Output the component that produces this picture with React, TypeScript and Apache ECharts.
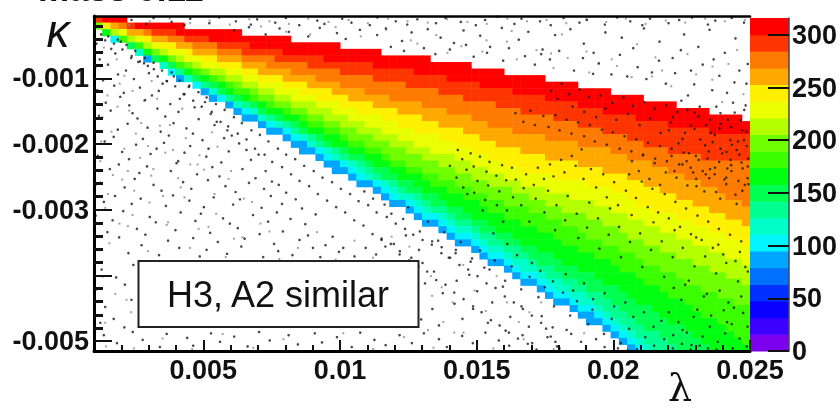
import React, { useEffect, useRef } from "react";
import * as echarts from "echarts";

// Colour scale: 20 contour bands, lowest first.
const bandColors = ["#7a00ee","#3c00ff","#0a00ff","#0030ff","#0070ff","#00a5ff","#00f5ff","#00ffc8","#00ff90","#00ff50","#00ff10","#3bff00","#6fff00","#b4ff00","#eaff00","#fff000","#ffa800","#ff7a00","#ff3500","#ff0000"];
const zMax = 316;
const bandWidth = zMax / 20;
const zTicks = [0, 50, 100, 150, 200, 250, 300];

// Binning of the histogram
const lambdaMin = 0.001;
const lambdaMax = 0.025;
const kappaTop = -0.00005;
const kappaBottom = -0.00515;
const cellLambda = 0.0003;
const cellKappa = 0.0001;

// Axis ticks
const xMajor = [0.005, 0.01, 0.015, 0.02, 0.025];
const xMinor = [0.002, 0.003, 0.004, 0.006, 0.007, 0.008, 0.009, 0.011, 0.012, 0.013, 0.014, 0.016, 0.017, 0.018, 0.019, 0.021, 0.022, 0.023, 0.024];
const yMajor = [-0.001, -0.002, -0.003, -0.004, -0.005];
const yLabels = [-0.001, -0.002, -0.003, -0.005];
const yMinor = [-0.0002, -0.0004, -0.0006, -0.0008, -0.0012, -0.0014, -0.0016, -0.0018, -0.0022, -0.0024, -0.0026, -0.0028, -0.0032, -0.0034, -0.0036, -0.0038, -0.0042, -0.0044, -0.0046, -0.0048];

// Per histogram row (top to bottom): the column where each colour band starts.
const rowEnd = [4,11,18,24,30,35,41,46,50,55,59,63,67,71,75,79];
const b05Start = [0,0,1,2,4,5,6,8,9,10,12,13,14,16,17,18,20,21,23,24,25,27,28,29,31,32,34,35,36,38,39,40,42,43,44,46,47,48,50,51,52,54,55,56,58,59,60,62,63,64,65];
const b06Start = [0,0,1,2,4,5,7,8,9,11,12,14,15,17,18,20,21,23,24,26,27,28,30,31,32,34,35,36,38,39,40,42,43,44,46,47,48,50,51,52,54,55,56,58,59,61,62,63,64,65,66];
const b07Start = [0,0,1,3,4,5,7,8,10,11,13,14,16,17,19,20,22,24,25,26,28,29,31,32,33,35,36,37,39,40,42,43,44,46,47,48,50,51,52,54,55,56,58,59,61,62,63,64,65,66,67];
const b08Start = [0,0,1,3,4,6,7,9,10,12,13,15,16,18,20,21,23,24,26,27,29,30,32,33,34,36,37,39,40,41,43,44,46,47,48,50,51,53,54,55,57,58,60,61,62,63,64,65,66,67,68];
const b09Start = [0,0,1,3,4,6,7,9,11,12,14,15,17,19,20,22,24,25,27,28,30,31,33,34,35,37,38,40,41,43,44,46,47,49,50,52,53,54,56,57,59,60,62,63,64,65,66,67,69,70,71];
const b10Start = [0,0,1,3,5,6,8,10,11,13,15,16,18,20,21,23,25,26,28,29,31,33,34,36,37,39,40,42,43,45,46,48,49,51,52,54,56,57,59,61,62,64,65,66,68,69,70,72,73,74,75];
const b11Start = [0,0,2,3,5,7,9,10,12,14,16,17,19,21,23,25,26,28,30,31,33,35,36,38,40,41,43,45,47,48,50,52,54,56,57,59,61,63,64,66,67,69,70,72,73,74,76,77,78,79,80];
const b12Start = [0,0,2,4,6,7,9,11,13,15,17,19,20,22,24,26,28,30,31,33,35,36,38,40,42,44,46,48,50,53,55,57,59,60,62,64,66,67,69,71,72,74,76,78,80];
const b13Start = [0,1,2,4,6,8,10,12,14,16,18,20,22,24,26,28,30,32,34,36,38,40,42,44,46,48,51,53,55,57,60,62,64,65,67,69,71,73,75,77,79];
const b14Start = [0,1,3,5,7,9,11,13,16,18,20,22,24,27,29,31,33,35,37,39,41,44,46,48,50,52,55,58,61,63,65,67,69,71,73,75,77,79];
const b15Start = [0,1,4,6,8,11,13,15,18,20,23,25,27,30,32,35,37,39,42,44,46,48,50,52,56,60,63,65,66,68,71,73,75,77,79];
const b16Start = [0,2,4,7,10,12,15,18,20,23,26,29,31,34,37,40,42,45,47,49,52,55,59,62,65,67,69,71,73,75,77,79];
const b17Start = [0,3,6,9,12,15,18,21,24,27,30,33,36,40,43,46,48,51,55,59,63,65,68,70,72,74,76,77,79];
const b18Start = [0,4,7,11,15,18,22,26,30,34,38,42,45,49,52,56,59,62,65,67,70,74];
const b19Start = [1,5,10,14,19,23,28,34,39,43,47,51,55,59,62,66,70,75];

// Speckle, as flat lambda,kappa pairs in units of 1e-5. Estimated per region: the reference has
// far too many specks to read one by one, so these follow its density, not each individual dot.
const specksLowerLeft = [
109,-47,163,-55,198,-44,121,-71,178,-62,236,-69,262,-75,104,-84,151,-79,217,-88,283,-77,319,-86,133,-103,188,-94,246,-101,301,-92,367,-104,392,-97,
112,-118,174,-111,209,-122,268,-114,337,-119,351,-108,428,-124,447,-113,143,-137,196,-128,229,-141,287,-133,312,-126,379,-139,414,-131,468,-144,506,-136,
118,-157,161,-149,241,-153,259,-161,332,-146,361,-158,409,-151,483,-162,527,-154,549,-166,103,-172,187,-178,223,-169,296,-175,344,-181,391,-168,438,-176,462,-184,541,-171,588,-179,604,-187,
139,-196,172,-189,254,-201,279,-192,356,-198,374,-187,452,-203,497,-194,519,-207,576,-191,631,-199,658,-209,114,-218,203,-212,228,-223,307,-215,329,-207,408,-226,431,-213,511,-219,566,-228,593,-211,674,-224,702,-216,
158,-238,191,-231,266,-244,294,-234,381,-241,402,-229,477,-246,533,-235,559,-249,643,-238,691,-252,728,-241,751,-257,123,-259,212,-266,249,-253,318,-262,347,-271,426,-258,456,-268,517,-255,581,-264,618,-273,667,-259,722,-268,776,-262,803,-274,
136,-288,177,-279,238,-291,271,-283,363,-294,389,-278,449,-286,502,-296,538,-281,609,-292,634,-284,713,-297,747,-279,788,-291,838,-284,861,-298,106,-309,168,-316,207,-302,304,-311,326,-319,417,-304,471,-317,491,-306,572,-313,597,-321,682,-308,737,-318,769,-304,819,-314,873,-322,911,-307,
149,-334,192,-342,257,-329,288,-338,371,-347,398,-331,463,-343,525,-335,553,-349,626,-328,651,-344,706,-337,759,-352,791,-333,852,-346,883,-339,947,-354,973,-341,1012,-358,119,-361,226,-366,274,-354,338,-369,412,-358,487,-371,512,-361,587,-367,639,-356,719,-372,774,-363,826,-369,901,-358,928,-372,996,-364,1053,-371,1094,-358,1132,-368,
128,-391,181,-403,244,-384,109,-421,213,-414,141,-448,237,-437,172,-466,123,-472,211,-479,
136,-491,184,-503,242,-486,278,-498,341,-509,366,-489,441,-495,463,-507,528,-488,561,-501,613,-493,662,-508,704,-486,743,-499,812,-491,846,-505,908,-488,934,-502,989,-494,1043,-509,1074,-487,1126,-498,1167,-506,1218,-491,1263,-503,1307,-488,1362,-497,1391,-509,1447,-492,1486,-503,1532,-487,1581,-499,1619,-507,1668,-491,1703,-503,1759,-494,1794,-508,1846,-489,1882,-501,1937,-497,1968,-509,2017,-511,2052,-514,
1302,-381,1344,-394,1398,-373,1427,-408,1311,-412,1376,-427,1338,-451,1419,-443,1297,-467,1362,-476,1448,-466,1473,-399,1502,-424,1528,-388,1557,-441,1596,-417,1623,-463,1541,-472,1487,-451,1664,-447,1691,-478,1738,-462,1606,-484,1778,-479,1829,-483,
1152,-344,1197,-352,1241,-339,1289,-361,1337,-348,1372,-357,1423,-366,1261,-373,1218,-368,1478,-379,1166,-356
];
const specksUpper = [
237,-11,291,-17,318,-8,384,-14,431,-19,452,-9,522,-16,558,-7,619,-13,674,-18,697,-10,763,-15,802,-8,851,-19,917,-12,943,-17,1008,-9,1042,-15,1109,-19,1137,-7,1204,-13,1246,-18,1283,-10,1351,-16,1386,-8,1442,-14,1497,-19,1531,-11,1576,-6,1638,-17,1664,-9,1732,-13,1771,-19,1818,-8,1876,-15,1903,-11,1969,-18,2014,-7,2062,-13,2106,-19,2134,-9,2202,-16,2241,-11,2288,-7,2346,-18,2373,-12,2433,-8,2478,-15,
612,-27,667,-22,728,-33,779,-24,813,-29,884,-36,926,-23,989,-31,1021,-40,1073,-26,1136,-34,1168,-24,1227,-43,1262,-30,1321,-25,1368,-38,1417,-46,1452,-27,1513,-35,1549,-52,1592,-23,1654,-41,1689,-29,1741,-56,1787,-34,1843,-25,1892,-47,1928,-61,1971,-30,2031,-38,2073,-54,2112,-24,2169,-44,2217,-69,2259,-33,2311,-52,2352,-26,2408,-61,2447,-39,2492,-78,
1186,-52,1234,-58,1307,-54,1349,-63,1402,-56,1461,-49,1489,-67,1538,-61,1597,-73,1618,-54,1677,-66,1713,-79,1768,-71,1802,-58,1856,-88,1889,-69,1947,-77,1993,-94,2024,-64,2089,-83,2121,-101,2167,-73,2226,-92,2247,-57,2296,-109,2327,-79,2388,-96,2416,-122,2461,-88,2487,-108,
1926,-93,2051,-97,2192,-108,2284,-88,2362,-118,2438,-137,2479,-148,2367,-71,2141,-91,2273,-126,2443,-106,1736,-63
];
const specksOnColour = [
// along the lower edge
126,-33,141,-42,152,-36,173,-47,187,-41,204,-56,219,-49,238,-66,251,-58,268,-74,286,-69,297,-81,318,-76,333,-97,349,-88,366,-104,384,-91,397,-112,413,-103,431,-124,449,-111,463,-134,482,-121,494,-143,512,-129,531,-151,546,-139,563,-166,578,-148,591,-173,612,-159,626,-184,641,-168,658,-193,676,-179,689,-207,707,-186,724,-216,738,-196,752,-227,773,-207,788,-235,803,-216,821,-246,836,-223,852,-256,869,-233,887,-264,904,-241,919,-276,936,-251,953,-286,971,-258,986,-296,1003,-268,1019,-304,1037,-276,1052,-316,1068,-287,1086,-324,1103,-293,1119,-337,1134,-304,1152,-346,1171,-311,1186,-352,1204,-321,1219,-363,1238,-329,1253,-377,1268,-338,1287,-386,1302,-346,1319,-394,1336,-353,1352,-407,1371,-366,1386,-414,1403,-373,1418,-426,1437,-384,1452,-436,1469,-391,1487,-447,1503,-401,1518,-456,1536,-412,1552,-468,1569,-419,1584,-476,1603,-432,1618,-487,1636,-441,1651,-496,1669,-451,1687,-504,1702,-461,1719,-513,1736,-472,1754,-481,1771,-493,1788,-501,1803,-511,
1089,-272,1121,-283,1163,-292,1188,-306,1231,-314,1249,-296,1292,-333,1322,-318,1359,-347,1381,-334,1424,-361,1441,-349,1483,-374,1512,-362,1547,-391,1566,-377,1604,-408,1628,-386,1663,-421,1694,-402,1726,-433,1749,-418,1783,-447,1816,-426,1842,-461,1867,-439,1908,-474,1923,-452,1966,-489,1994,-466,2027,-503,2058,-481,2086,-512,2117,-494,2149,-507,
1561,-336,1612,-352,1648,-369,1702,-381,1733,-393,1779,-409,1826,-398,1853,-423,1893,-412,1926,-436,1968,-427,2003,-447,2044,-441,2073,-463,2112,-456,2147,-478,2176,-469,2219,-491,2253,-483,2286,-506,
// upper cluster, starting at lambda 0.0143
1431,-209,1447,-223,1478,-214,1489,-234,1512,-219,1536,-242,1547,-227,1572,-248,1593,-232,1608,-255,1629,-236,1426,-251,1451,-266,1463,-239,1491,-274,1503,-256,1531,-285,1542,-263,1574,-293,1583,-272,1611,-301,1633,-281,1643,-254,1672,-267,1681,-246,1709,-262,1724,-236,1746,-253,1768,-231,1781,-249,1809,-224,1821,-243,1848,-218,1862,-233,1884,-208,
1402,-233,1466,-276,1522,-301,1597,-318,1663,-293,1716,-283,1693,-318,1748,-304,1761,-271,1792,-293,1787,-331,1824,-316,1833,-279,1866,-306,1872,-343,1904,-327,1912,-289,1944,-313,1949,-359,1983,-338,1988,-298,2021,-326,2028,-372,2061,-349,2067,-308,2098,-336,2106,-387,2138,-361,2147,-319,2177,-348,2186,-402,2217,-372,2224,-331,2254,-358,2263,-414,2297,-386,2303,-342,2336,-371,2342,-428,2376,-397,2384,-353,2413,-381,2421,-441,2456,-409,2463,-364,2492,-394,
1891,-253,1918,-238,1937,-266,1963,-246,1976,-281,2003,-258,2017,-293,2046,-271,2058,-246,2083,-282,2104,-257,2126,-296,2143,-268,2164,-304,2188,-276,2203,-313,2227,-288,2244,-326,2266,-298,2284,-337,2308,-309,2323,-346,2347,-318,2364,-358,2386,-329,2402,-368,2427,-338,2447,-378,2468,-348,2483,-387,
2068,-226,2093,-241,2108,-217,2132,-253,2151,-229,2171,-262,2192,-243,2213,-218,2231,-251,2253,-231,2271,-263,2292,-243,2312,-224,2333,-272,2351,-252,2372,-236,2391,-283,2413,-261,2432,-241,2451,-291,2472,-271,2491,-252,
2221,-419,2248,-437,2276,-408,2307,-452,2331,-432,2358,-461,2389,-423,2416,-471,2441,-449,2468,-432,2491,-478,2203,-456,2238,-471,2269,-487,2294,-463,2327,-493,2353,-478,2382,-501,2409,-488,2437,-511,2462,-496,2488,-508,2186,-497,2218,-511,2251,-504,2283,-513,2316,-507,2346,-511,2378,-513,2404,-453,2433,-474,2475,-457,
// upper right, over the red and orange bands
1773,-119,1796,-131,1811,-108,1838,-124,1851,-143,1877,-117,1894,-151,1911,-128,1937,-159,1954,-126,1972,-146,1996,-137,2011,-163,2037,-129,2053,-154,2072,-142,2096,-171,2113,-136,2134,-161,2152,-146,2173,-183,2194,-141,2211,-167,2234,-151,2253,-192,2271,-148,2297,-177,2312,-158,2336,-202,2354,-163,2371,-186,2393,-169,2414,-212,2431,-174,2456,-196,2472,-179,2493,-222,
1642,-153,1671,-166,1697,-149,1713,-171,1744,-157,1763,-174,1788,-156,1803,-179,1829,-163,1847,-184,1871,-167,1893,-188,1914,-171,1932,-196,1958,-178,1976,-201,1998,-182,2023,-207,2041,-188,2066,-211,2084,-193,2109,-216,2127,-198,2153,-222,2171,-203,2196,-226,2213,-207,2241,-231,2257,-213,2283,-236,2302,-218,2327,-241,2344,-222,2371,-246,2387,-227,2413,-251,2431,-232,2458,-256,2473,-237,2494,-261,
2249,-134,2284,-172,2316,-143,2357,-183,2392,-153,2428,-194,2466,-164,2488,-203,2304,-264,2338,-246,2376,-273,2406,-254,2447,-277,2481,-262,2363,-197,2398,-214,2434,-201,2469,-228,2486,-181,
2218,-159,2262,-183,2298,-152,2339,-171,2377,-143,2419,-163,2444,-152,2484,-141,2203,-179,2238,-199,2277,-214,2318,-193,2349,-211,2388,-176,2429,-224,2451,-209,2478,-194,2224,-241,2268,-226,2303,-253,2354,-238,2392,-207,2417,-237,2461,-216,2492,-234
];
const specksFaded = [
104,-66,136,-53,183,-71,211,-96,149,-126,194,-108,241,-119,283,-134,311,-104,131,-159,186,-143,229,-149,273,-168,331,-131,378,-171,423,-146,
126,-196,164,-181,211,-207,253,-184,298,-203,341,-172,389,-209,436,-191,486,-217,531,-182,123,-226,169,-247,224,-241,269,-221,317,-238,361,-213,408,-252,452,-231,503,-239,552,-204,601,-241,
108,-262,151,-276,203,-254,247,-271,309,-248,352,-279,417,-266,479,-231,541,-276,592,-253,648,-283,141,-297,193,-321,241,-308,303,-289,366,-323,431,-281,483,-329,547,-306,612,-344,678,-288,742,-333,
156,-351,224,-325,297,-363,371,-319,451,-358,519,-326,582,-372,643,-342,709,-321,778,-375,846,-358,916,-334,984,-376,1053,-347,1121,-373,1189,-341,1254,-356,
131,-402,219,-437,141,-472,178,-428,236,-456,144,-508,246,-511,351,-496,459,-512,571,-489,683,-510,793,-497,901,-511,1012,-488,1121,-512,1234,-494,1342,-510,1452,-487,1561,-511,1672,-497,1782,-512,1893,-488,
1333,-401,1372,-418,1412,-441,1451,-384,1492,-423,1533,-454,1573,-401,1611,-441,1654,-471,1693,-456,1736,-441,1337,-431,1378,-471,1418,-487,1322,-483,
228,-19,304,-13,377,-9,452,-16,523,-12,597,-18,668,-10,742,-13,813,-17,884,-9,958,-14,1031,-11,1102,-16,1176,-9,1247,-13,1321,-15,1392,-10,1466,-14,1537,-17,1612,-9,1684,-13,1756,-11,1828,-16,1902,-10,1974,-14,2046,-9,2118,-17,2192,-12,2263,-15,2336,-9,2408,-13,2481,-11,
711,-21,803,-29,891,-33,984,-22,1076,-36,1169,-26,1259,-42,1352,-34,1444,-51,1536,-42,1628,-28,1719,-57,1812,-33,1902,-59,1994,-71,2087,-48,2178,-88,2271,-63,2362,-102,2453,-57,2363,-82,2141,-97,1946,-78,1772,-62,1611,-44,
1283,-47,1393,-61,1521,-59,1647,-71,1781,-84,1833,-69,1912,-91,2013,-81,2067,-98,2154,-68,2212,-112,2303,-94,2398,-136,2421,-78,2476,-124
];

function pairs(flat: number[]) {
  const out: number[][] = [];
  for (let i = 0; i < flat.length; i += 2) out.push([flat[i] * 1e-5, flat[i + 1] * 1e-5]);
  return out;
}

const bandStarts: [number, number[]][] = [[5,b05Start],[6,b06Start],[7,b07Start],[8,b08Start],[9,b09Start],[10,b10Start],[11,b11Start],[12,b12Start],[13,b13Start],[14,b14Start],[15,b15Start],[16,b16Start],[17,b17Start],[18,b18Start],[19,b19Start]];

function buildCells() {
  const cells: number[][] = [];
  for (let r = 0; r < b05Start.length; r++) {
    const end = rowEnd[r] ?? 80;
    for (let c = b05Start[r]; c < end; c++) {
      let band = 5;
      for (const [k, arr] of bandStarts) if ((arr[r] ?? 80) <= c) band = k;
      cells.push([lambdaMin + (c + 0.5) * cellLambda, kappaTop - (r + 0.5) * cellKappa, (band + 0.5) * bandWidth]);
    }
  }
  return cells;
}

const font = '"Liberation Sans", Arial, sans-serif';
const ink = "#111";

export default function App() {
  const ref = useRef<HTMLDivElement>(null);
  useEffect(() => {
    const chart = echarts.init(ref.current!, undefined, { renderer: "svg" });
    const labelStyle = { color: ink, fontFamily: font, fontWeight: "bold" as const, fontSize: 27 };
    chart.setOption({
      animation: false,
      backgroundColor: "#fff",
      grid: [
        { left: 94, top: 16, width: 656, height: 335 },
        { left: 750, top: 18, width: 39, height: 333 },
      ],
      xAxis: [
        { gridIndex: 0, type: "value", min: lambdaMin, max: lambdaMax, position: "bottom", z: 10,
          splitLine: { show: false },
          axisLine: { onZero: false, lineStyle: { color: "#000", width: 3 } },
          axisTick: { show: true, inside: true, length: 11, customValues: xMajor, lineStyle: { color: ink, width: 2 } },
          axisLabel: { customValues: xMajor, formatter: (v: number) => String(v), margin: 5, ...labelStyle } },
        { gridIndex: 0, type: "value", min: lambdaMin, max: lambdaMax, position: "bottom", z: 10,
          splitLine: { show: false },
          axisLine: { show: false, onZero: false },
          axisTick: { show: true, inside: true, length: 6, customValues: xMinor, lineStyle: { color: ink, width: 2 } },
          axisLabel: { show: false } },
        { gridIndex: 0, type: "value", min: lambdaMin, max: lambdaMax, position: "top", z: 10,
          splitLine: { show: false },
          axisLine: { onZero: false, lineStyle: { color: "#000", width: 2.5 } },
          axisTick: { show: false }, axisLabel: { show: false } },
        { gridIndex: 1, type: "value", min: 0, max: 1, show: false },
      ],
      yAxis: [
        { gridIndex: 0, type: "value", min: kappaBottom, max: kappaTop, position: "left", z: 10,
          splitLine: { show: false },
          axisLine: { onZero: false, lineStyle: { color: "#000", width: 3 } },
          axisTick: { show: true, inside: true, length: 18, customValues: yMajor, lineStyle: { color: ink, width: 2 } },
          axisLabel: { customValues: yLabels, formatter: (v: number) => String(v), margin: 5, padding: [7, 0, 0, 0], ...labelStyle } },
        { gridIndex: 0, type: "value", min: kappaBottom, max: kappaTop, position: "left", z: 10,
          splitLine: { show: false },
          axisLine: { show: false, onZero: false },
          axisTick: { show: true, inside: true, length: 9, customValues: yMinor, lineStyle: { color: ink, width: 3 } },
          axisLabel: { show: false } },
        { gridIndex: 1, type: "value", min: 0, max: zMax, position: "right", z: 10,
          splitLine: { show: false },
          axisLine: { onZero: false, lineStyle: { color: "#445", width: 1.5 } },
          axisTick: { show: true, inside: true, length: 21, customValues: zTicks, lineStyle: { color: ink, width: 2 } },
          axisLabel: { customValues: zTicks, formatter: (v: number) => String(v), margin: 3, padding: [6, 0, 0, 0], ...labelStyle } },
      ],
      series: [
        { type: "custom", xAxisIndex: 0, yAxisIndex: 0, z: 2, clip: true, silent: true,
          data: buildCells(),
          renderItem: (_p: any, api: any) => {
            const c = api.coord([api.value(0), api.value(1)]);
            const s = api.size([cellLambda, cellKappa]);
            return { type: "rect",
              shape: { x: c[0] - s[0] / 2, y: c[1] - s[1] / 2, width: s[0] + 0.5, height: s[1] + 0.5 },
              style: { fill: bandColors[Math.floor(api.value(2) / bandWidth)] } };
          } },
        { type: "custom", xAxisIndex: 3, yAxisIndex: 2, z: 2, silent: true,
          data: bandColors.map((_, i) => [i * bandWidth, (i + 1) * bandWidth]),
          encode: { y: [0, 1] },
          renderItem: (p: any, api: any) => {
            const a = api.coord([0, api.value(0)]);
            const b = api.coord([1, api.value(1)]);
            return { type: "rect", shape: { x: a[0], y: b[1], width: b[0] - a[0], height: a[1] - b[1] + 0.5 },
              style: { fill: bandColors[p.dataIndex] } };
          } },
        { type: "scatter", xAxisIndex: 0, yAxisIndex: 0, z: 3, silent: true, symbol: "rect", symbolSize: 2,
          itemStyle: { color: "#8a8a8a" }, data: pairs(specksFaded) },
        { type: "scatter", xAxisIndex: 0, yAxisIndex: 0, z: 4, silent: true, symbol: "circle", symbolSize: 2.6,
          itemStyle: { color: "#1a1a1a" }, data: [...pairs(specksLowerLeft), ...pairs(specksUpper), ...pairs(specksOnColour)] },
      ],
      graphic: [
        { type: "rect", z: 20, shape: { x: 138.5, y: 261, width: 280, height: 66 }, style: { fill: "#fff", stroke: "#222", lineWidth: 2 } },
        { type: "text", z: 21, x: 278, y: 294, style: { text: "H3, A2 similar", fill: "#111", font: `36px ${font}`, align: "center", verticalAlign: "middle" } },
        { type: "text", z: 21, x: 58, y: 31, style: { text: "\u03ba", fill: "#111", font: `italic 46px ${font}`, align: "center", verticalAlign: "middle" } },
        { type: "text", z: 21, x: 680, y: 388, style: { text: "\u03bb", fill: "#111", font: `38px "DejaVu Serif", serif`, align: "center", verticalAlign: "middle" } },
        { type: "text", z: 21, x: 38, y: 6, style: { text: "mass 0.11", fill: "#111", font: `bold 35px ${font}`, align: "left", verticalAlign: "bottom" } },
      ],
    });
    return () => chart.dispose();
  }, []);
  return <div ref={ref} style={{ position: "fixed", left: 0, top: 0, width: 840, height: 408, background: "#fff", filter: "blur(0.5px)" }} />;
}
